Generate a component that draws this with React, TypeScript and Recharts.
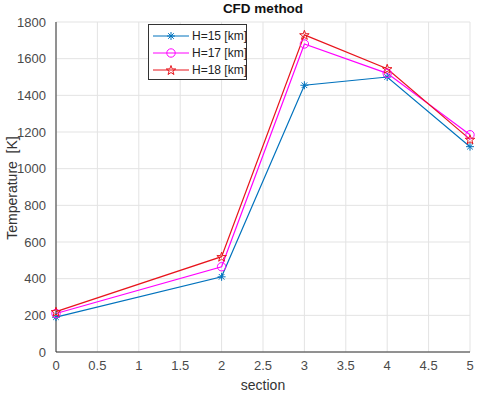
import React from "react";
import { LineChart, Line, XAxis, YAxis, CartesianGrid } from "recharts";

const sections = [0, 2, 3, 4, 5];
const h15 = [190, 410, 1455, 1500, 1120];
const h17 = [210, 465, 1680, 1520, 1185];
const h18 = [220, 520, 1730, 1545, 1160];
const xTicks = [0, 0.5, 1, 1.5, 2, 2.5, 3, 3.5, 4, 4.5, 5];
const yTicks = [0, 200, 400, 600, 800, 1000, 1200, 1400, 1600, 1800];

const BLUE = "#0072BD";
const MAGENTA = "#FF00FF";
const RED = "#E8141C";
const FONT = "'Liberation Sans', Arial, sans-serif";

const data = sections.map((s, i) => ({ section: s, h15: h15[i], h17: h17[i], h18: h18[i] }));

function starPoints(cx: number, cy: number, r: number) {
  const pts: string[] = [];
  for (let i = 0; i < 10; i++) {
    const rr = i % 2 === 0 ? r : r * 0.4;
    const a = -Math.PI / 2 + (i * Math.PI) / 5;
    pts.push(`${cx + rr * Math.cos(a)},${cy + rr * Math.sin(a)}`);
  }
  return pts.join(" ");
}

function Asterisk({ cx, cy, color }: { cx: number; cy: number; color: string }) {
  const r = 4;
  const d = r * 0.7;
  return (
    <g stroke={color} strokeWidth={1}>
      <line x1={cx - r} y1={cy} x2={cx + r} y2={cy} />
      <line x1={cx} y1={cy - r} x2={cx} y2={cy + r} />
      <line x1={cx - d} y1={cy - d} x2={cx + d} y2={cy + d} />
      <line x1={cx - d} y1={cy + d} x2={cx + d} y2={cy - d} />
    </g>
  );
}

function Circle({ cx, cy, color }: { cx: number; cy: number; color: string }) {
  return <circle cx={cx} cy={cy} r={4.2} fill="none" stroke={color} strokeWidth={1} />;
}

function Star({ cx, cy, color }: { cx: number; cy: number; color: string }) {
  return <polygon points={starPoints(cx, cy + 0.5, 5)} fill="none" stroke={color} strokeWidth={1} />;
}

const mk = (Comp: any, color: string) => (p: any) =>
  <Comp key={p.index} cx={p.cx} cy={p.cy} color={color} />;

function LegendRow({ Comp, color, text }: { Comp: any; color: string; text: string }) {
  return (
    <div style={{ display: "flex", alignItems: "center", height: 17, whiteSpace: "nowrap" }}>
      <svg width={38} height={14} style={{ flexShrink: 0 }}>
        <line x1={1} y1={7} x2={37} y2={7} stroke={color} strokeWidth={1} />
        <Comp cx={19} cy={7} color={color} />
      </svg>
      <span style={{ fontSize: 12, color: "#222", marginLeft: 2 }}>{text}</span>
    </div>
  );
}

export default function App() {
  return (
    <div style={{ position: "absolute", left: 0, top: 0, width: 480, height: 395, background: "#fff", fontFamily: FONT }}>
      <div style={{ position: "absolute", left: 56, width: 414, top: 1, textAlign: "center", fontWeight: "bold", fontSize: 13.5, color: "#111" }}>
        CFD method
      </div>
      <div
        style={{
          position: "absolute",
          left: 12,
          top: 188,
          transform: "translate(-50%, -50%) rotate(-90deg)",
          whiteSpace: "nowrap",
          fontSize: 14,
          color: "#333",
        }}
      >
        Temperature&nbsp;&nbsp;[K]
      </div>
      <LineChart width={480} height={395} data={data} margin={{ top: 22, right: 10, bottom: 0, left: 0 }}>
        <CartesianGrid stroke="#e3e3e3" strokeWidth={1} horizontalValues={yTicks} verticalValues={xTicks} />
        <XAxis
          dataKey="section"
          type="number"
          domain={[0, 5]}
          ticks={xTicks}
          height={43}
          tickLine={false}
          tickMargin={3}
          stroke="#333"
          tick={{ fill: "#4a4a4a", fontSize: 13, fontFamily: FONT }}
          label={{ value: "section", position: "insideBottom", offset: 5, fill: "#333", fontSize: 14, fontFamily: FONT }}
        />
        <YAxis
          type="number"
          domain={[0, 1800]}
          ticks={yTicks}
          width={56}
          tickLine={false}
          tickMargin={4}
          stroke="#333"
          tick={{ fill: "#4a4a4a", fontSize: 13, fontFamily: FONT }}
        />
        <Line dataKey="h15" stroke={BLUE} strokeWidth={1.2} dot={mk(Asterisk, BLUE)} isAnimationActive={false} />
        <Line dataKey="h17" stroke={MAGENTA} strokeWidth={1.2} dot={mk(Circle, MAGENTA)} isAnimationActive={false} />
        <Line dataKey="h18" stroke={RED} strokeWidth={1.2} dot={mk(Star, RED)} isAnimationActive={false} />
      </LineChart>
      <div
        style={{
          position: "absolute",
          left: 148,
          top: 24,
          width: 99,
          height: 56,
          border: "1px solid #333",
          background: "#fff",
          padding: "2px 0 0 3px",
          boxSizing: "border-box",
        }}
      >
        <LegendRow Comp={Asterisk} color={BLUE} text="H=15 [km]" />
        <LegendRow Comp={Circle} color={MAGENTA} text="H=17 [km]" />
        <LegendRow Comp={Star} color={RED} text="H=18 [km]" />
      </div>
    </div>
  );
}
